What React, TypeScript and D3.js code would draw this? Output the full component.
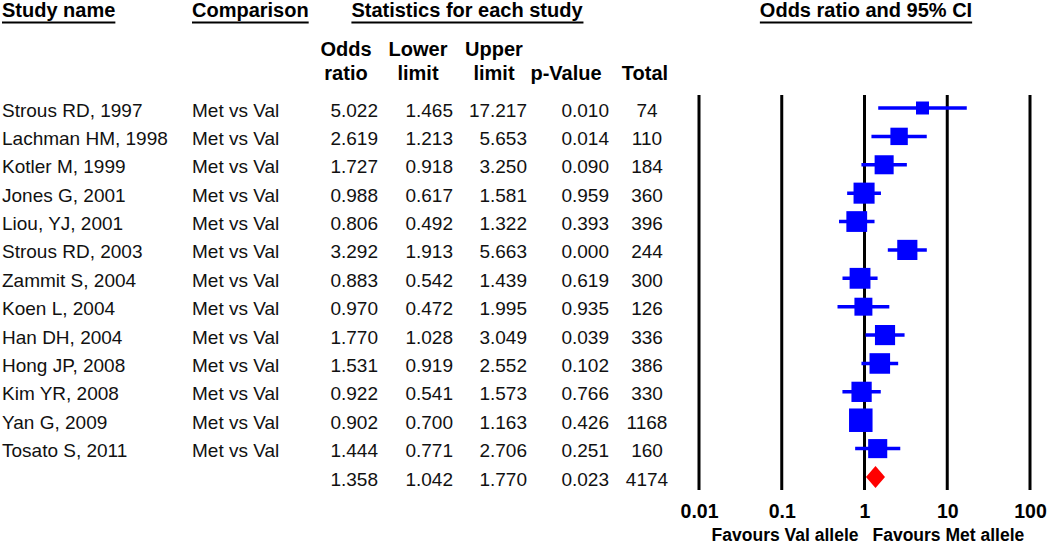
import React, { useEffect, useRef } from 'react'
import * as d3 from 'd3'

// study table
const studies = [
  'Strous RD, 1997', 'Lachman HM, 1998', 'Kotler M, 1999', 'Jones G, 2001',
  'Liou, YJ, 2001', 'Strous RD, 2003', 'Zammit S, 2004', 'Koen L, 2004',
  'Han DH, 2004', 'Hong JP, 2008', 'Kim YR, 2008', 'Yan G, 2009', 'Tosato S, 2011'
]
const comparison = 'Met vs Val'
const oddsRatio = [5.022, 2.619, 1.727, 0.988, 0.806, 3.292, 0.883, 0.970, 1.770, 1.531, 0.922, 0.902, 1.444]
const lowerLimit = [1.465, 1.213, 0.918, 0.617, 0.492, 1.913, 0.542, 0.472, 1.028, 0.919, 0.541, 0.700, 0.771]
const upperLimit = [17.217, 5.653, 3.250, 1.581, 1.322, 5.663, 1.439, 1.995, 3.049, 2.552, 1.573, 1.163, 2.706]
const pValue = ['0.010', '0.014', '0.090', '0.959', '0.393', '0.000', '0.619', '0.935', '0.039', '0.102', '0.766', '0.426', '0.251']
const total = [74, 110, 184, 360, 396, 244, 300, 126, 336, 386, 330, 1168, 160]

// pooled (random effects) summary row
const pooledOR = 1.358
const pooledLower = 1.042
const pooledUpper = 1.770
const pooledP = '0.023'
const pooledTotal = 4174

const axisTicks = [0.01, 0.1, 1, 10, 100]
const favoursLeft = 'Favours Val allele'
const favoursRight = 'Favours Met allele'

const FONT = "Arial, 'Liberation Sans', sans-serif"

function App() {
  const node = useRef<SVGSVGElement | null>(null)

  useEffect(() => {
    const svg = d3.select(node.current)
    svg.selectAll('*').remove()

    const n = studies.length
    const rowKeys = d3.range(n + 1)

    // rows: 13 studies + pooled line
    const yRow = d3.scalePoint<number>().domain(rowKeys).range([108, 477])
    const x = d3.scaleLog().domain([0.01, 100]).range([699, 1030])

    // random effects weights (DerSimonian-Laird) -> marker size
    const yi = oddsRatio.map(Math.log)
    const se = lowerLimit.map((l, i) => (Math.log(upperLimit[i]) - Math.log(l)) / 3.92)
    const wf = se.map(s => 1 / (s * s))
    const sw = d3.sum(wf)
    const ybar = d3.sum(wf.map((w, i) => w * yi[i])) / sw
    const Q = d3.sum(wf.map((w, i) => w * (yi[i] - ybar) ** 2))
    const C = sw - d3.sum(wf.map(w => w * w)) / sw
    const tau2 = Math.max(0, (Q - (n - 1)) / C)
    const wr = se.map(s => 1 / (s * s + tau2))
    const size = d3.scaleSqrt().domain([0, d3.max(wr) as number]).range([0, 23.5])

    // header
    const headers = svg.append('g')
      .style('font-family', FONT)
      .style('font-weight', 'bold')
      .style('font-size', '20px')
      .attr('fill', '#000')

    const top = [
      { t: 'Study name', x: 2, anchor: 'start' },
      { t: 'Comparison', x: 192, anchor: 'start' },
      { t: 'Statistics for each study', x: 467, anchor: 'middle' },
      { t: 'Odds ratio and 95% CI', x: 866, anchor: 'middle' }
    ]
    top.forEach(h => {
      const txt = headers.append('text')
        .attr('x', h.x).attr('y', 17)
        .attr('text-anchor', h.anchor)
        .text(h.t)
      const bb = (txt.node() as SVGTextElement).getBBox()
      headers.append('line')
        .attr('x1', bb.x).attr('x2', bb.x + bb.width)
        .attr('y1', 22.5).attr('y2', 22.5)
        .attr('stroke', '#000').attr('stroke-width', 2)
    })

    const sub = [
      { a: 'Odds', b: 'ratio', x: 346 },
      { a: 'Lower', b: 'limit', x: 418 },
      { a: 'Upper', b: 'limit', x: 494 },
      { a: '', b: 'p-Value', x: 566 },
      { a: '', b: 'Total', x: 645 }
    ]
    sub.forEach(h => {
      headers.append('text').attr('x', h.x).attr('y', 56).attr('text-anchor', 'middle').text(h.a)
      headers.append('text').attr('x', h.x).attr('y', 80).attr('text-anchor', 'middle').text(h.b)
    })

    // table body
    const body = svg.append('g')
      .style('font-family', FONT)
      .style('font-size', '19px')
      .attr('fill', '#111')

    const fmt = d3.format('.3f')
    const rows = rowKeys.map(i => i < n ? {
      name: studies[i], comp: comparison, or: oddsRatio[i], lo: lowerLimit[i],
      hi: upperLimit[i], p: pValue[i], total: total[i]
    } : {
      name: '', comp: '', or: pooledOR, lo: pooledLower, hi: pooledUpper, p: pooledP, total: pooledTotal
    })

    const rowG = body.selectAll('g.row')
      .data(rows)
      .enter()
      .append('g')
      .attr('class', 'row')
      .attr('transform', (d, i) => `translate(0,${(yRow(i) as number) + 8.5})`)

    rowG.append('text').attr('x', 2).text(d => d.name)
    rowG.append('text').attr('x', 192).text(d => d.comp)
    rowG.append('text').attr('x', 378).attr('text-anchor', 'end').text(d => fmt(d.or))
    rowG.append('text').attr('x', 453).attr('text-anchor', 'end').text(d => fmt(d.lo))
    rowG.append('text').attr('x', 527).attr('text-anchor', 'end').text(d => fmt(d.hi))
    rowG.append('text').attr('x', 609).attr('text-anchor', 'end').text(d => d.p)
    rowG.append('text').attr('x', 647).attr('text-anchor', 'middle').text(d => d.total)

    // vertical reference lines
    svg.append('g')
      .selectAll('line')
      .data(axisTicks)
      .enter()
      .append('line')
      .attr('x1', d => x(d)).attr('x2', d => x(d))
      .attr('y1', 95).attr('y2', 490)
      .attr('stroke', '#000')
      .attr('stroke-width', 3)

    // CI lines + squares
    const plot = svg.append('g')
    const studyIdx = d3.range(n)
    plot.selectAll('line.ci')
      .data(studyIdx)
      .enter()
      .append('line')
      .attr('class', 'ci')
      .attr('x1', i => x(lowerLimit[i])).attr('x2', i => x(upperLimit[i]))
      .attr('y1', i => yRow(i) as number).attr('y2', i => yRow(i) as number)
      .attr('stroke', '#0000ff')
      .attr('stroke-width', 3.5)

    plot.selectAll('rect')
      .data(studyIdx)
      .enter()
      .append('rect')
      .attr('x', i => x(oddsRatio[i]) - size(wr[i]) / 2)
      .attr('y', i => (yRow(i) as number) - size(wr[i]) / 2)
      .attr('width', i => size(wr[i]))
      .attr('height', i => size(wr[i]))
      .attr('fill', '#0000ff')

    // pooled diamond
    const cy = yRow(n) as number
    const dh = 11
    plot.append('path')
      .attr('d', `M${x(pooledLower)},${cy}L${x(pooledOR)},${cy - dh}L${x(pooledUpper)},${cy}L${x(pooledOR)},${cy + dh}Z`)
      .attr('fill', '#ff0000')

    // tick labels
    const axisG = svg.append('g')
      .attr('transform', 'translate(0,518)')
      .call(d3.axisBottom(x).tickValues(axisTicks).tickFormat(d => String(d)).tickSize(0).tickPadding(0))
    axisG.select('.domain').remove()
    axisG.selectAll('text')
      .attr('dy', null)
      .attr('y', 0)
      .style('font-family', FONT)
      .style('font-weight', 'bold')
      .style('font-size', '19.5px')
      .attr('fill', '#000')

    const fav = svg.append('g')
      .style('font-family', FONT)
      .style('font-weight', 'bold')
      .style('font-size', '17.5px')
      .attr('fill', '#000')
    fav.append('text').attr('x', x(1) - 6).attr('y', 541).attr('text-anchor', 'end').text(favoursLeft)
    fav.append('text').attr('x', x(1) + 8).attr('y', 541).attr('text-anchor', 'start').text(favoursRight)
  }, [])

  return (
    <svg
      ref={node}
      width={1050}
      height={544}
      style={{ position: 'absolute', left: 0, top: 0, background: '#fff' }}
    />
  )
}

export default App
